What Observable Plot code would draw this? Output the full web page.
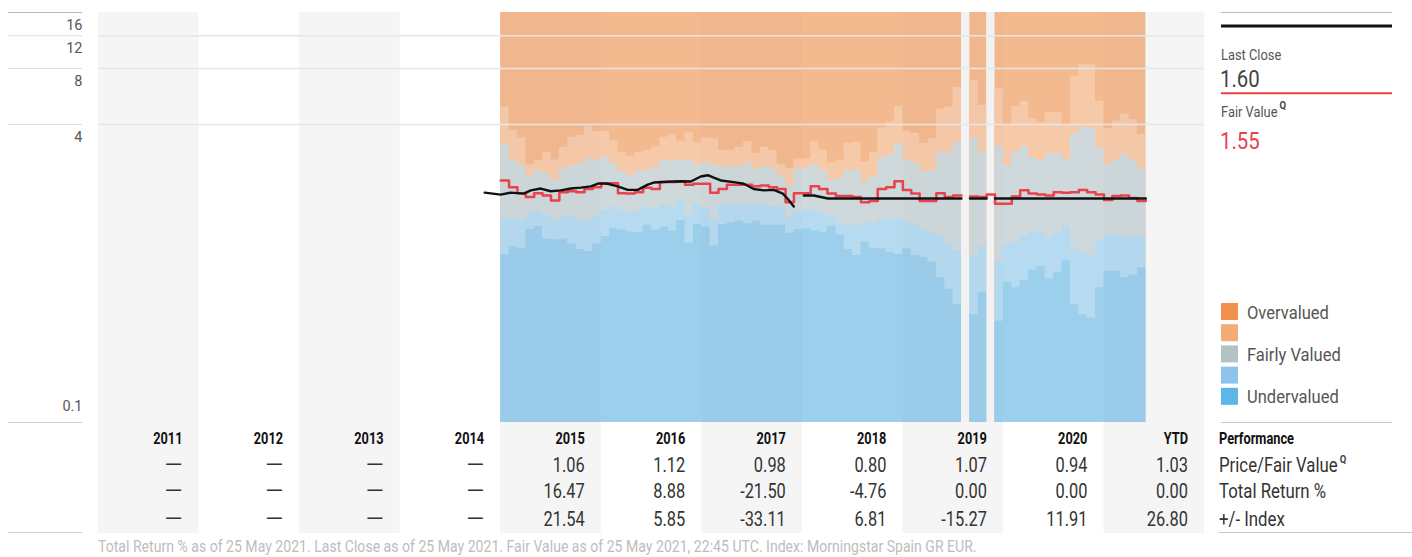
<!DOCTYPE html>
<html><head><meta charset="utf-8">
<script src="https://cdn.jsdelivr.net/npm/d3@7"></script>
<script src="https://cdn.jsdelivr.net/npm/@observablehq/plot@0.6"></script>
<style>
html,body{margin:0;padding:0;background:#fff;}
#wrap{position:relative;width:1412px;height:557px;overflow:hidden;}
#wrap svg{position:absolute;left:0;top:0;}
</style></head><body><div id="wrap"></div>
<script>
const FONT = '"Liberation Sans Narrow","Arial Narrow",Roboto,sans-serif';

// ---------------- data ----------------
const columnYears  = [2011,2012,2013,2014,2015,2016,2017,2018,2019,2020,2021];
const columnLabels = ["2011","2012","2013","2014","2015","2016","2017","2018","2019","2020","YTD"];
const yTicks = [4, 8, 12, 16];
const yLowTick = 0.1;
const bandStartYear = 2015; // monthly valuation bands start Jan 2015

// band boundaries (price levels), one per month, null = no data
const overvaluedBottom = [4.96,3.71,3.39,2.43,2.56,2.84,2.58,3.02,3.42,3.49,3.90,3.67,
  3.67,3.28,2.84,2.69,2.84,2.90,3.02,3.42,3.53,3.25,3.61,3.17,
  3.39,3.35,2.90,2.92,3.02,3.24,2.80,3.02,2.90,2.43,2.33,2.61,
  2.61,3.25,2.93,2.48,2.58,3.17,3.21,2.53,2.84,3.84,4.12,5.00,
  3.68,3.59,3.17,3.35,4.85,4.96,6.35,null,6.90,5.06,null,6.22,
  3.95,5.00,5.32,4.29,4.07,4.62,4.66,4.00,7.24,8.40,8.40,5.34,
  3.79,4.17,4.56,4.24,3.53];
const fairlyTop = [3.12,2.58,2.41,2.13,2.26,2.17,2.00,2.31,2.41,2.46,2.61,2.58,
  2.65,2.46,2.22,2.13,2.26,2.28,2.36,2.56,2.58,2.56,2.58,2.44,
  2.51,2.41,2.38,2.36,2.36,2.48,2.31,2.36,2.31,2.13,1.88,2.31,
  2.31,2.44,2.26,2.01,2.04,2.26,2.26,1.96,2.11,2.65,2.76,3.15,
  2.58,2.48,2.22,2.26,2.84,2.82,3.21,null,3.38,2.84,null,3.06,
  2.41,2.84,3.05,2.65,2.56,2.76,2.82,2.59,3.56,3.84,3.82,3.00,
  2.44,2.58,2.76,2.58,2.31];
const fairlyBottom = [1.24,1.24,1.22,1.32,1.38,1.30,1.22,1.27,1.27,1.22,1.22,1.28,
  1.38,1.44,1.37,1.33,1.38,1.43,1.39,1.47,1.44,1.56,1.30,1.49,
  1.41,1.22,1.47,1.50,1.49,1.47,1.49,1.47,1.45,1.44,1.27,1.35,
  1.37,1.39,1.33,1.28,1.18,1.16,1.13,1.19,1.17,1.22,1.23,1.26,
  1.19,1.15,1.09,1.04,1.00,0.91,0.84,null,0.79,0.89,null,0.73,
  0.91,0.93,1.00,1.05,1.05,0.98,1.04,1.13,0.86,0.82,0.79,0.95,
  1.01,1.03,0.99,0.99,1.01];
const undervaluedTop = [0.80,0.88,0.86,1.09,1.13,0.97,0.96,0.97,0.91,0.85,0.83,0.91,
  1.00,1.10,1.08,1.06,1.05,1.15,1.08,1.12,1.07,1.22,0.92,1.16,
  1.12,0.89,1.16,1.18,1.21,1.17,1.21,1.15,1.15,1.15,1.04,1.09,
  1.10,1.07,1.05,1.13,1.02,0.85,0.79,0.93,0.86,0.86,0.82,0.80,
  0.86,0.79,0.77,0.73,0.60,0.52,0.43,null,0.38,0.50,null,0.35,
  0.57,0.53,0.58,0.66,0.69,0.59,0.64,0.74,0.43,0.38,0.365,0.53,
  0.65,0.65,0.60,0.62,0.68];
const fairValue = [2.00,1.84,1.71,1.63,1.71,1.66,1.56,1.73,1.75,1.73,1.80,1.84,
  1.93,1.93,1.71,1.70,1.73,1.83,1.80,1.96,1.96,1.975,1.90,1.92,
  1.92,1.72,1.80,1.90,1.90,1.90,1.86,1.88,1.84,1.80,1.53,1.71,
  1.71,1.86,1.80,1.70,1.65,1.65,1.63,1.53,1.55,1.80,1.84,1.98,
  1.78,1.70,1.55,1.55,1.71,1.63,1.66,null,1.64,1.63,1.68,1.50,
  1.50,1.64,1.77,1.70,1.68,1.66,1.73,1.72,1.73,1.78,1.73,1.68,
  1.57,1.65,1.66,1.61,1.55];

// last close price (decimal year, price); null = break
const priceDates = [2014.841,2015.000,2015.100,2015.229,2015.299,2015.398,2015.498,2015.597,2015.697,2015.796,2015.896,2015.975,
  2016.065,2016.164,2016.264,2016.363,2016.463,2016.522,2016.662,2016.791,2016.891,2016.990,
  2017.060,2017.119,2017.189,2017.318,2017.418,2017.517,2017.617,2017.716,2017.806,2017.856,2017.915,2017.96,
  2018.015,2018.114,2018.184,2018.254,2019.583,2019.625,2019.667,2019.833,2019.875,2019.917,2021.417];
const priceValues = [1.72,1.68,1.72,1.70,1.77,1.81,1.75,1.77,1.81,1.83,1.86,1.93,
  1.92,1.86,1.78,1.78,1.90,1.95,1.97,1.98,1.975,2.10,
  2.135,2.07,2.00,1.96,1.92,1.80,1.77,1.78,1.70,1.59,1.45,null,
  1.66,1.66,1.63,1.60,1.60,null,1.60,1.60,null,1.60,1.60];

const lastClose = "1.60";
const fairValueNow = "1.55";
const priceToFair   = [null,null,null,null,1.06,1.12,0.98,0.80,1.07,0.94,1.03];
const totalReturn   = [null,null,null,null,16.47,8.88,-21.50,-4.76,0.00,0.00,0.00];
const plusMinusIndex= [null,null,null,null,21.54,5.85,-33.11,6.81,-15.27,11.91,26.80];
const rowLabels = ["Price/Fair Value","Total Return %","+/- Index"];
const legendLabels = ["Overvalued","","Fairly Valued","","Undervalued"];
const footer = "Total Return % as of 25 May 2021. Last Close as of 25 May 2021. Fair Value as of 25 May 2021, 22:45 UTC. Index: Morningstar Spain GR EUR.";

// ---------------- styles ----------------
const bandColors   = ["#f3b98f","#f6caa9","#cfd9db","#b6dbf1","#9ccfec"];
const legendColors = ["#f2914d","#f4ab77","#b3c3c3","#8cc4ec","#5db5e8"];
const RED = "#e8424b";

// ---------------- build step rows ----------------
const N = overvaluedBottom.length;
const mx = t => bandStartYear + t / 12;
function stepRows(vals) {
  const rows = [];
  for (let t = 0; t < N; t++) {
    const v = typeof vals === "number" ? (overvaluedBottom[t] == null ? null : vals) : vals[t];
    if (v == null) { rows.push({x: mx(t), y: NaN}); continue; }
    rows.push({x: mx(t), y: v}, {x: mx(t + 1), y: v});
  }
  return rows;
}
const bandTops = [16, overvaluedBottom, fairlyTop, fairlyBottom, undervaluedTop];
const priceRows = priceDates.map((d, i) => ({x: d, y: priceValues[i] == null ? NaN : priceValues[i]}));
const grayCols = columnYears.filter((d, i) => i % 2 === 0);
const shadeCols = grayCols.filter(d => d >= bandStartYear);

const chart = Plot.plot({
  width: 1412, height: 425,
  marginLeft: 98, marginRight: 208, marginTop: 12, marginBottom: 3,
  x: {domain: [2011, 2022], axis: null},
  y: {type: "log", domain: [0.1, 16], axis: null},
  style: {fontFamily: FONT, background: "transparent", overflow: "visible"},
  marks: [
    Plot.rect(grayCols, {x1: d => d, x2: d => d + 1, y1: 0.1, y2: 16, fill: "#f5f5f5"}),
    ...bandTops.map((top, i) => Plot.areaY(stepRows(top), {x: "x", y1: 0.1, y2: "y", fill: bandColors[i], curve: "linear"})),
    Plot.rect(shadeCols, {x1: d => d, x2: d => Math.min(d + 1, mx(N)), y1: 0.1, y2: 16, fill: "#000", fillOpacity: 0.012}),
    Plot.ruleY([4, 8, 12], {stroke: "#e6e6e6", strokeWidth: 1.3}),
    Plot.ruleY([yLowTick, ...yTicks.filter(d => d !== 16)], {insetLeft: -90, insetRight: 1122, stroke: "#dedede"}),
    Plot.ruleY([16], {insetLeft: -90, insetRight: 1122, stroke: "#b5b5b5"}),
    Plot.text(yTicks, {y: d => d, text: d => String(d), frameAnchor: "left", dx: -16, dy: 17.5, lineAnchor: "bottom", textAnchor: "end", fontSize: 14.5, fill: "#555"}),
    Plot.text([yLowTick], {y: d => d, text: d => String(d), frameAnchor: "left", dx: -16, dy: -12, lineAnchor: "bottom", textAnchor: "end", fontSize: 14.5, fill: "#555"}),
    Plot.line(stepRows(fairValue), {x: "x", y: "y", stroke: RED, strokeWidth: 2.5, curve: "linear"}),
    Plot.line(priceRows, {x: "x", y: "y", stroke: "#111", strokeWidth: 2.4, curve: "linear"})
  ]
});
document.getElementById("wrap").appendChild(chart);

// ---------------- overlay: table, legend, footer ----------------
const X = chart.scale("x");
const xs = v => X.apply(v);
const ov = d3.select("#wrap").append("svg").attr("width", 1412).attr("height", 557)
  .style("font-family", FONT).style("pointer-events", "none");

grayCols.forEach(y => {
  ov.append("rect").attr("x", xs(y)).attr("y", 422).attr("width", xs(y + 1) - xs(y)).attr("height", 111).attr("fill", "#f5f5f5");
});
const hline = (x1, x2, y, stroke, w) => ov.append("line").attr("x1", x1).attr("x2", x2).attr("y1", y).attr("y2", y).attr("stroke", stroke).attr("stroke-width", w);
hline(8, 82, 422.5, "#cfcfcf", 1);
hline(8, 82, 532.5, "#cfcfcf", 1);
hline(1221, 1392, 12.5, "#bbbbbb", 1);
hline(1221, 1392, 26, "#111", 3);
hline(1221, 1392, 93.3, RED, 2);
hline(1221, 1392, 422.5, "#c8c8c8", 1.2);
hline(1218, 1412, 532.5, "#c8c8c8", 1.2);

// condensed look: horizontal squeeze of the available sans face
function txt(x, y, s, size, fill, opts = {}) {
  const sx = opts.sx || 0.83;
  const t = ov.append("text").attr("transform", `translate(${x},${y}) scale(${sx},1)`)
    .attr("font-size", size).attr("fill", fill).text(s);
  if (opts.anchor) t.attr("text-anchor", opts.anchor);
  if (opts.bold) t.attr("font-weight", "bold");
  t.node().__x = x; t.node().__sx = sx;
  return t;
}
function supQ(t, y) {
  const n = t.node();
  const len = n.getComputedTextLength() * n.__sx;
  txt(n.__x + len + 2, y, "Q", 10, "#444", {bold: true, sx: 0.95});
}

// right panel
txt(1221, 60, "Last Close", 15.5, "#555");
txt(1220, 86.5, lastClose, 24.5, "#444", {sx: 0.83});
const fvLabel = txt(1221, 117, "Fair Value", 15.5, "#555");
supQ(fvLabel, 109);
txt(1220, 149, fairValueNow, 24.5, RED, {sx: 0.83});

// legend
legendColors.forEach((c, i) => {
  const y0 = 303 + i * 21.2;
  ov.append("rect").attr("x", 1221).attr("y", y0).attr("width", 17).attr("height", 17).attr("fill", c);
  if (legendLabels[i]) txt(1247, y0 + 15.5, legendLabels[i], 19, "#555", {sx: 0.87});
});

// table
const fmt = v => v == null ? "\u2014" : v.toFixed(2);
const rowsData = [priceToFair, totalReturn, plusMinusIndex];
const rowBase = [471.5, 498.3, 525.5];
columnYears.forEach((y, i) => {
  const xr = xs(y + 1) - 16;
  txt(xr, 444.3, columnLabels[i], 16, "#111", {anchor: "end", bold: true, sx: 0.8});
  rowsData.forEach((r, j) => txt(xr, rowBase[j], fmt(r[i]), 20, "#333", {anchor: "end", sx: r[i] == null ? 1.15 : 0.82}));
});
txt(1219, 444.3, "Performance", 16, "#111", {bold: true, sx: 0.8});
rowLabels.forEach((l, j) => {
  const t = txt(1219, rowBase[j], l, 20, "#333", {sx: 0.84});
  if (j === 0) supQ(t, rowBase[j] - 9);
});

// footer
txt(98, 552, footer, 16, "#bdbdbd", {sx: 0.88});
</script>
</body></html>
